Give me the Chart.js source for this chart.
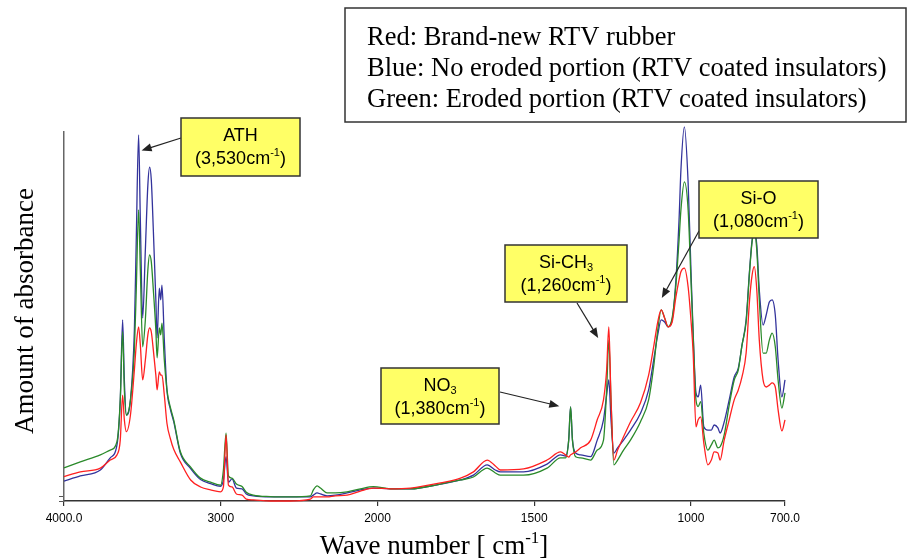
<!DOCTYPE html>
<html>
<head>
<meta charset="utf-8">
<script src="https://cdn.jsdelivr.net/npm/chart.js@4"></script>
<style>
  body { margin: 0; background: #fff; }
  canvas { display: block; }
</style>
</head>
<body>
<canvas id="chart" width="912" height="560"></canvas>
<script>
// Wave numbers (cm-1) shared by the three spectra
const wavenumbers = [4000, 3896, 3768, 3705, 3662, 3641, 3626, 3615, 3602, 3576, 3551, 3539, 3524, 3513, 3498, 3481, 3465, 3454, 3443, 3430,
  3414, 3406, 3392, 3383, 3375, 3360, 3343, 3322, 3300, 3258, 3192, 3129, 3065, 3001, 2983, 2966, 2951, 2928, 2900, 2864,
  2837, 2792, 2683, 2556, 2428, 2409, 2385, 2364, 2322, 2269, 2194, 2109, 2026, 1959, 1895, 1799, 1735, 1694, 1650, 1624,
  1608, 1534, 1459, 1416, 1400, 1390, 1384, 1378, 1368, 1352, 1320, 1299, 1279, 1269, 1262, 1255, 1246, 1234, 1215, 1193,
  1161, 1135, 1119, 1106, 1095, 1084, 1073, 1060, 1048, 1038, 1032, 1021, 1009, 1000, 993, 984, 977, 969, 959, 946,
  935, 926, 914, 907, 894, 878, 862, 849, 837, 824, 813, 805, 798, 790, 782, 770, 760, 750, 741, 731,
  722, 710, 700];

// Red: brand-new RTV rubber
const redValues = [.066, .079, .089, .111, .125, .165, .287, .220, .188, .233, .355, .423, .472, .423, .328, .382, .450, .469, .458, .409,
  .341, .301, .350, .341, .341, .287, .210, .170, .140, .106, .057, .038, .030, .025, .038, .179, .043, .038, .019, .016,
  .005, .003, .000, .000, .005, .011, .011, .011, .011, .014, .016, .027, .035, .033, .035, .049, .062, .079, .111, .095,
  .084, .087, .111, .133, .125, .119, .125, .128, .133, .144, .165, .220, .274, .355, .472, .274, .111, .138, .174, .214,
  .266, .341, .418, .485, .518, .496, .472, .485, .553, .599, .621, .631, .580, .491, .401, .201, .220, .228, .157, .098,
  .111, .133, .130, .111, .165, .220, .274, .301, .337, .401, .545, .612, .635, .572, .436, .328, .309, .314, .320, .309,
  .247, .190, .220];

// Blue: no eroded portion (RTV coated insulators)
const blueValues = [.054, .068, .084, .117, .152, .274, .491, .328, .233, .274, .463, .707, .992, .762, .496, .680, .856, .905, .870, .734,
  .545, .442, .577, .545, .585, .436, .300, .250, .215, .130, .088, .058, .047, .040, .057, .120, .051, .060, .035, .033,
  .019, .014, .011, .011, .011, .016, .022, .019, .014, .016, .022, .030, .035, .033, .033, .046, .057, .070, .098, .084,
  .079, .079, .100, .125, .122, .165, .255, .165, .130, .125, .120, .165, .220, .287, .328, .220, .130, .144, .165, .192,
  .238, .301, .382, .450, .491, .485, .472, .491, .599, .762, .897, 1.014, .862, .626, .455, .293, .282, .314, .201, .192,
  .192, .206, .198, .184, .214, .274, .336, .360, .423, .491, .626, .707, .734, .694, .572, .477, .504, .539, .545, .504,
  .382, .282, .328];

// Green: eroded portion (RTV coated insulators)
const greenValues = [.090, .106, .125, .138, .161, .274, .459, .301, .233, .274, .409, .572, .789, .626, .418, .491, .626, .667, .648, .572,
  .463, .388, .469, .450, .482, .382, .300, .255, .220, .134, .092, .062, .051, .043, .084, .184, .068, .062, .046, .039,
  .024, .016, .012, .011, .014, .030, .041, .035, .022, .022, .025, .033, .039, .033, .033, .046, .057, .065, .089, .076,
  .070, .070, .089, .117, .117, .165, .255, .165, .120, .117, .111, .138, .165, .301, .436, .274, .098, .111, .138, .165,
  .215, .274, .364, .463, .518, .496, .472, .496, .585, .707, .789, .865, .789, .599, .450, .274, .256, .269, .184, .138,
  .152, .165, .144, .147, .179, .260, .328, .355, .423, .485, .621, .702, .729, .680, .545, .401, .401, .436, .455, .418,
  .328, .252, .293];

// x axis ticks (spectrometer scale is expanded 2x below 2000 cm-1)
const tickWavenumbers = [4000, 3000, 2000, 1500, 1000, 700];
const tickLabels = ['4000.0', '3000', '2000', '1500', '1000', '700.0'];

const legendLines = [
  'Red: Brand-new RTV rubber',
  'Blue: No eroded portion (RTV coated insulators)',
  'Green: Eroded portion (RTV coated insulators)'
];

// wave number -> position on the linear axis
function toAxis(wn) {
  return wn >= 2000 ? (4000 - wn) / 1000 : 2 + (2000 - wn) / 500;
}

function series(values) {
  return wavenumbers.map((w, i) => ({ x: toAxis(w), y: values[i] }));
}

// text with sub/superscripts
function drawRich(ctx, parts, x, y, size, family, align) {
  const small = Math.round(size * 0.62);
  let w = 0;
  parts.forEach(p => {
    ctx.font = (p.s ? small : size) + 'px ' + family;
    w += ctx.measureText(p.t).width;
  });
  let cx = align === 'center' ? x - w / 2 : x;
  ctx.textAlign = 'left';
  ctx.textBaseline = 'middle';
  parts.forEach(p => {
    ctx.font = (p.s ? small : size) + 'px ' + family;
    const dy = p.s === 'sup' ? -size * 0.33 : p.s === 'sub' ? size * 0.3 : 0;
    ctx.fillText(p.t, cx, y + dy);
    cx += ctx.measureText(p.t).width;
  });
}

const callouts = [
  { lines: [[{ t: 'ATH' }], [{ t: '(3,530cm' }, { t: '-1', s: 'sup' }, { t: ')' }]],
    box: [181, 118, 119, 58], from: [181, 138], tip: [3505, 0.95] },
  { lines: [[{ t: 'NO' }, { t: '3', s: 'sub' }], [{ t: '(1,380cm' }, { t: '-1', s: 'sup' }, { t: ')' }]],
    box: [381, 368, 118, 56], from: [500, 392], tip: [1420, 0.257] },
  { lines: [[{ t: 'Si-CH' }, { t: '3', s: 'sub' }], [{ t: '(1,260cm' }, { t: '-1', s: 'sup' }, { t: ')' }]],
    box: [505, 245, 122, 57], from: [577, 303], tip: [1296, 0.442] },
  { lines: [[{ t: 'Si-O' }], [{ t: '(1,080cm' }, { t: '-1', s: 'sup' }, { t: ')' }]],
    box: [699, 181, 119, 57], from: [699, 231], tip: [1093, 0.55] }
];

const serif = '"Liberation Serif", "Times New Roman", serif';
const sans = '"Liberation Sans", Arial, sans-serif';

const overlayPlugin = {
  id: 'overlay',
  afterDraw(chart) {
    const ctx = chart.ctx;
    const xs = chart.scales.x, ys = chart.scales.y;
    ctx.save();

    // legend box
    ctx.strokeStyle = '#333';
    ctx.lineWidth = 1.5;
    ctx.strokeRect(345, 8, 561, 114);
    ctx.fillStyle = '#000';
    legendLines.forEach((line, i) => {
      drawRich(ctx, [{ t: line }], 367, 38 + i * 31, 26.5, serif, 'left');
    });

    // callouts
    callouts.forEach(c => {
      const [bx, by, bw, bh] = c.box;
      const tx = xs.getPixelForValue(toAxis(c.tip[0]));
      const ty = ys.getPixelForValue(c.tip[1]);
      const ang = Math.atan2(ty - c.from[1], tx - c.from[0]);
      ctx.strokeStyle = '#222';
      ctx.fillStyle = '#222';
      ctx.lineWidth = 1.2;
      ctx.beginPath();
      ctx.moveTo(c.from[0], c.from[1]);
      ctx.lineTo(tx - 7 * Math.cos(ang), ty - 7 * Math.sin(ang));
      ctx.stroke();
      ctx.beginPath();
      ctx.moveTo(tx, ty);
      ctx.lineTo(tx - 10 * Math.cos(ang) + 4 * Math.sin(ang), ty - 10 * Math.sin(ang) - 4 * Math.cos(ang));
      ctx.lineTo(tx - 10 * Math.cos(ang) - 4 * Math.sin(ang), ty - 10 * Math.sin(ang) + 4 * Math.cos(ang));
      ctx.closePath();
      ctx.fill();

      ctx.fillStyle = '#ffff66';
      ctx.fillRect(bx, by, bw, bh);
      ctx.strokeStyle = '#333';
      ctx.lineWidth = 1.5;
      ctx.strokeRect(bx, by, bw, bh);
      ctx.fillStyle = '#000';
      drawRich(ctx, c.lines[0], bx + bw / 2, by + 18, 18, sans, 'center');
      drawRich(ctx, c.lines[1], bx + bw / 2, by + 41, 18, sans, 'center');
    });

    // axis titles
    ctx.fillStyle = '#000';
    drawRich(ctx, [{ t: 'Wave number [ cm' }, { t: '-1', s: 'sup' }, { t: ']' }], 434, 547, 27, serif, 'center');
    ctx.translate(26, 311);
    ctx.rotate(-Math.PI / 2);
    drawRich(ctx, [{ t: 'Amount of absorbance' }], 0, 0, 27, serif, 'center');
    ctx.restore();
  }
};

const lineStyle = { borderWidth: 1.3, pointRadius: 0, fill: false, cubicInterpolationMode: 'monotone', clip: false };

new Chart(document.getElementById('chart').getContext('2d'), {
  type: 'line',
  data: {
    datasets: [
      { label: 'Brand-new RTV rubber', data: series(redValues), borderColor: '#ff2020', ...lineStyle },
      { label: 'Eroded portion', data: series(greenValues), borderColor: '#2a8a2a', ...lineStyle },
      { label: 'No eroded portion', data: series(blueValues), borderColor: '#33339c', ...lineStyle }
    ]
  },
  options: {
    responsive: false,
    animation: false,
    layout: { padding: { left: 54, right: 127, top: 132, bottom: 0 } },
    plugins: { legend: { display: false }, tooltip: { enabled: false } },
    scales: {
      x: {
        type: 'linear',
        min: 0,
        max: toAxis(700),
        afterBuildTicks: scale => { scale.ticks = tickWavenumbers.map(w => ({ value: toAxis(w) })); },
        afterFit: scale => { scale.height = 59; },
        ticks: {
          autoSkip: false,
          maxRotation: 0,
          padding: 5,
          color: '#000',
          font: { family: sans, size: 12 },
          callback: (v, i) => tickLabels[i]
        },
        grid: { drawOnChartArea: false, tickLength: 5, color: '#333', lineWidth: 1.2 },
        border: { color: '#333', width: 1.5 }
      },
      y: {
        min: 0,
        max: 1,
        afterBuildTicks: scale => { scale.ticks = [{ value: 0 }, { value: 0.011 }]; },
        afterFit: scale => { scale.width = 10; },
        ticks: { display: false },
        grid: { drawOnChartArea: false, tickLength: 5, color: '#555' },
        border: { color: '#666', width: 1.5 }
      }
    }
  },
  plugins: [overlayPlugin]
});
</script>
</body>
</html>
